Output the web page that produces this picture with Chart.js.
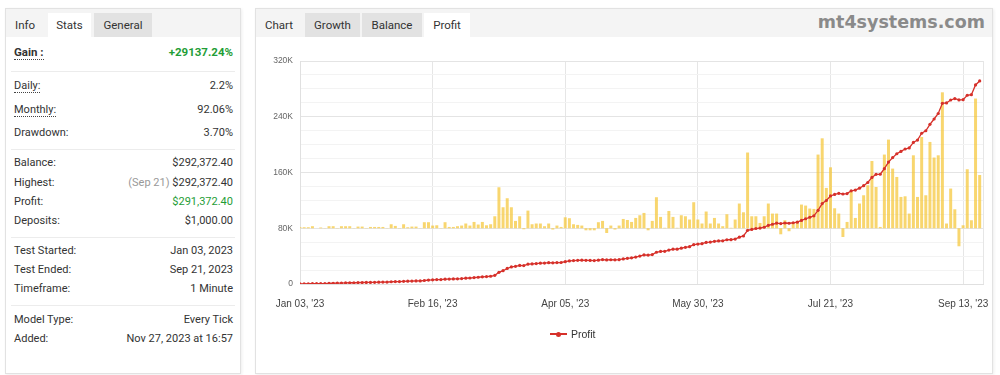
<!DOCTYPE html>
<html>
<head>
<meta charset="utf-8">
<title>Profit</title>
<script src="https://cdn.jsdelivr.net/npm/chart.js@4.4.0/dist/chart.umd.min.js"></script>
<style>
  body { margin: 0; width: 1000px; height: 375px; background: #fff; font-family: Roboto, Arial, sans-serif; color: #333; position: relative; overflow: hidden; }
  .panel { position: absolute; top: 8px; height: 364px; background: #fff; border: 1px solid #e2e2e2; box-shadow: 1px 1px 3px rgba(0,0,0,0.07); }
  #left { left: 5px; width: 234px; }
  #right { left: 255px; width: 736px; }
  .tabbar { position: absolute; left: 0; top: 0; right: 0; height: 28px; background: #f4f4f4; }
  .tab { position: absolute; top: 4px; height: 24px; line-height: 24px; font-size: 11.5px; text-align: center; color: #333; }
  .tab.plain { text-align: left; padding-left: 9px; box-sizing: border-box; }
  .tab.gray { background: #e2e2e2; }
  .tab.on { background: #fff; }
  .row { position: absolute; left: 8px; right: 7px; height: 14px; line-height: 14px; font-size: 11px; }
  .row .v { position: absolute; right: 0; top: 0; }
  .sep { position: absolute; left: 5px; right: 5px; height: 1px; background: #ececec; }
  .dot { border-bottom: 1px dotted #444; }
  .bold { font-weight: bold; font-size: 11.5px; }
  .green { color: #1f9d37; }
  .muted { color: #999; }
  .mark { position: absolute; right: 7px; top: 3px; line-height: 20px; font-family: "DejaVu Sans", Verdana, sans-serif; font-weight: bold; font-size: 17.5px; color: #8a8a8a; }
  #chartBox { position: absolute; left: 258px; top: 42px; width: 739px; height: 290px; }
  #legend { position: absolute; left: 550px; top: 327px; height: 14px; font-family: "Liberation Sans", Arial, sans-serif; font-size: 10.5px; color: #333; }
  #legend .ln { position: absolute; left: 0; top: 6px; width: 17px; height: 1.5px; background: #d6302a; }
  #legend .pt { position: absolute; left: 6px; top: 4.5px; width: 5px; height: 5px; border-radius: 50%; background: #d6302a; }
  #legend .tx { position: absolute; left: 21px; top: 0; line-height: 14px; }
</style>
</head>
<body>

<div class="panel" id="left">
  <div class="tabbar">
    <div class="tab plain" style="left:0;width:42px">Info</div>
    <div class="tab on" style="left:42px;width:43px">Stats</div>
    <div class="tab gray" style="left:88px;width:58px">General</div>
  </div>
  <div class="row" style="top:36px"><span class="dot bold">Gain :</span><span class="v bold green">+29137.24%</span></div>
  <div class="sep" style="top:62px"></div>
  <div class="row" style="top:70px"><span class="dot">Daily:</span><span class="v">2.2%</span></div>
  <div class="row" style="top:94px"><span class="dot">Monthly:</span><span class="v">92.06%</span></div>
  <div class="row" style="top:117px">Drawdown:<span class="v">3.70%</span></div>
  <div class="sep" style="top:140px"></div>
  <div class="row" style="top:147px">Balance:<span class="v">$292,372.40</span></div>
  <div class="row" style="top:167px">Highest:<span class="v"><span class="muted">(Sep 21)</span> $292,372.40</span></div>
  <div class="row" style="top:186px">Profit:<span class="v green">$291,372.40</span></div>
  <div class="row" style="top:205px">Deposits:<span class="v">$1,000.00</span></div>
  <div class="sep" style="top:228px"></div>
  <div class="row" style="top:235px">Test Started:<span class="v">Jan 03, 2023</span></div>
  <div class="row" style="top:254px">Test Ended:<span class="v">Sep 21, 2023</span></div>
  <div class="row" style="top:273px">Timeframe:<span class="v">1 Minute</span></div>
  <div class="sep" style="top:296px"></div>
  <div class="row" style="top:304px">Model Type:<span class="v">Every Tick</span></div>
  <div class="row" style="top:323px">Added:<span class="v">Nov 27, 2023 at 16:57</span></div>
</div>

<div class="panel" id="right">
  <div class="tabbar">
    <div class="tab plain" style="left:0;width:47px">Chart</div>
    <div class="tab gray" style="left:49px;width:55px">Growth</div>
    <div class="tab gray" style="left:106px;width:60px">Balance</div>
    <div class="tab on" style="left:168px;width:46px">Profit</div>
  </div>
  <div class="mark">mt4systems.com</div>
</div>

<div id="chartBox"><canvas id="profitChart"></canvas></div>
<div id="legend"><span class="ln"></span><span class="pt"></span><span class="tx">Profit</span></div>

<script>
// x axis labels, one every 32 trading days
const tickLabels = ["Jan 03, '23", "Feb 16, '23", "Apr 05, '23", "May 30, '23", "Jul 21, '23", "Sep 13, '23"];

// daily profit in $ (yellow bars)
const dailyProfit = [
    110, 110, 110, 220, 0, 80, 20, 220, 220, 30,
    220, 220, 220, 20, 180, 180, 30, 140, 140, 140,
    140, 20, 430, 250, 30, 430, 110, 180, 180, 20,
    650, 650, 290, 320, 30, 650, 140, 140, 220, 290,
    510, 290, 680, 400, 680, 320, 430, 1290, 4410, 2260,
    3230, 2260, 790, 1290, -110, 1900, 430, 510, 510, 220,
    510, -140, 290, 140, 1180, 1080, 430, 360, 290, -220,
    -220, -220, 650, 790, -510, 290, -140, 290, 1000, 890,
    680, 1110, 1400, 1650, -220, 790, 3340, 1220, 50, 1860,
    1220, 50, 1400, 1290, 940, 2800, 940, 510, 1800, 510,
    1110, 510, 220, 1510, 50, 940, 2660, 1720, 8150, 1290,
    1290, 570, 1290, 2660, 1580, 1580, -650, 860, -320, 680,
    790, 2550, 2440, 2120, 2080, 7930, 9680, 4340, 6560, 2150,
    1580, -940, 680, 3910, 1110, 2660, 3550, 4630, 7240, 4440,
    140, 7930, 9540, 6420, 5520, 3370, 3440, 1580, 7850, 3370,
    9820, 3550, 9290, 7610, 7850, 14630, 510, 4270, 2040, -1940,
    320, 6350, 860, 13960, 5730
];

// accumulated profit in $ (red line)
const totalProfit = [
    110, 220, 330, 550, 550, 630, 650, 870, 1090, 1120,
    1340, 1560, 1780, 1800, 1980, 2160, 2190, 2330, 2470, 2610,
    2750, 2770, 3200, 3450, 3480, 3910, 4020, 4200, 4380, 4400,
    5050, 5700, 5990, 6310, 6340, 6990, 7130, 7270, 7490, 7780,
    8290, 8580, 9260, 9660, 10340, 10660, 11090, 12380, 16790, 19050,
    22280, 24540, 25330, 26620, 26510, 28410, 28840, 29350, 29860, 30080,
    30590, 30450, 30740, 30880, 32060, 33140, 33570, 33930, 34220, 34000,
    33780, 33560, 34210, 35000, 34490, 34780, 34640, 34930, 35930, 36820,
    37500, 38610, 40010, 41660, 41440, 42230, 45570, 46790, 46840, 48700,
    49920, 49970, 51370, 52660, 53600, 56400, 57340, 57850, 59650, 60160,
    61270, 61780, 62000, 63510, 63560, 64500, 67160, 68880, 77030, 78320,
    79610, 80180, 81470, 84130, 85710, 87290, 86640, 87500, 87180, 87860,
    88650, 91200, 93640, 95760, 97840, 105770, 115450, 119790, 126350, 128500,
    130080, 129140, 129820, 133730, 134840, 137500, 141050, 145680, 152920, 157360,
    157500, 165430, 174970, 181390, 186910, 190280, 193720, 195300, 203150, 206520,
    216340, 219890, 229180, 236790, 244640, 259270, 259780, 264050, 266090, 264150,
    264470, 270820, 271680, 285640, 291370
];

const days = totalProfit.map((_, i) => i);

const RED = '#d6302a';
const BAR = 'rgba(245, 196, 50, 0.7)';
const lastX = 164.8;

new Chart(document.getElementById('profitChart'), {
    type: 'bar',
    data: {
        labels: days,
        datasets: [{
            type: 'line',
            label: 'Profit',
            data: totalProfit,
            yAxisID: 'y',
            borderColor: RED,
            borderWidth: 1.3,
            pointRadius: 1.6,
            pointBackgroundColor: RED,
            pointBorderWidth: 0,
            tension: 0,
            order: 1
        }, {
            type: 'bar',
            label: 'Daily',
            data: dailyProfit,
            yAxisID: 'y1',
            backgroundColor: BAR,
            barPercentage: 0.9,
            categoryPercentage: 0.8,
            order: 2
        }]
    },
    options: {
        animation: false,
        responsive: true,
        maintainAspectRatio: false,
        layout: { padding: { left: 0, right: 0, top: 19, bottom: 18 } },
        plugins: {
            legend: { display: false },
            tooltip: { enabled: false }
        },
        scales: {
            x: {
                type: 'linear',
                min: 0,
                max: lastX,
                offset: false,
                grid: { color: '#e6e6e6', drawTicks: false, offset: false },
                border: { color: '#e0e0e0' },
                ticks: {
                    stepSize: 32,
                    includeBounds: false,
                    autoSkip: false,
                    maxRotation: 0,
                    padding: 14,
                    color: '#444',
                    font: { family: 'Liberation Sans', size: 10 },
                    callback: v => v % 32 === 0 ? tickLabels[v / 32] : ''
                },
                // extra tick so the right edge of the plot gets a grid line
                afterBuildTicks: s => { s.ticks.push({ value: lastX }); },
                afterFit: s => { s.height = 30; }
            },
            y: {
                min: 0,
                max: 320000,
                grid: {
                    color: c => c.tick.value % 80000 === 0 ? '#e4e4e4' : '#f3f3f3',
                    drawTicks: false
                },
                border: { color: '#e0e0e0' },
                ticks: {
                    stepSize: 20000,
                    padding: 7,
                    color: '#666',
                    font: { family: 'Liberation Sans', size: 8.5 },
                    callback: v => v % 80000 === 0 ? (v === 0 ? '0' : (v / 1000) + 'K') : ''
                },
                afterFit: s => { s.width = 42; }
            },
            // hidden axis for the daily bars, zero sits on the 80K line
            y1: {
                display: false,
                min: -6000,
                max: 18000
            }
        }
    }
});
</script>
</body>
</html>
